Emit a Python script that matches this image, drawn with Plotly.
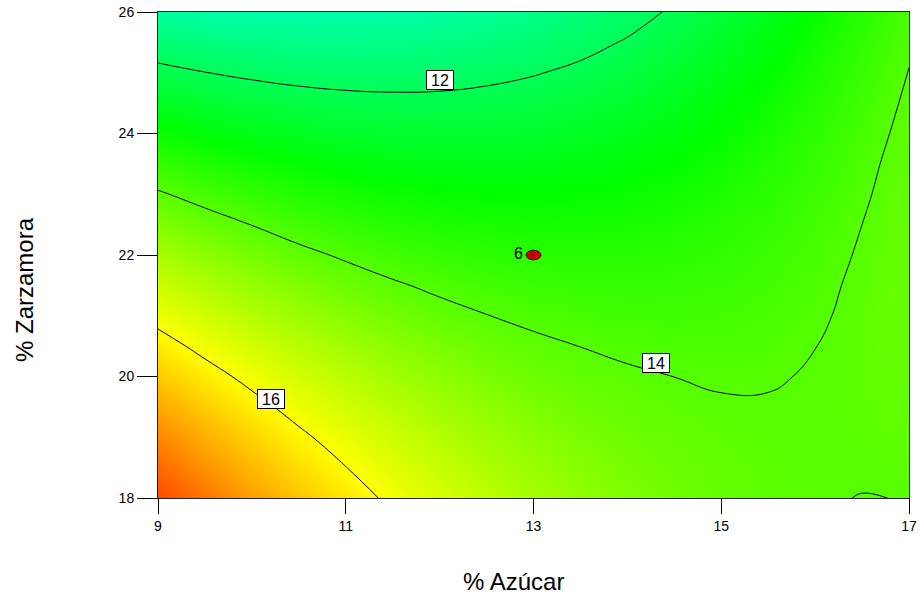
import plotly.graph_objects as go

# ---- data ----
azucar = [9, 9.5, 10, 10.5, 11, 11.5, 12, 12.5, 13, 13.5, 14, 14.5, 15, 15.5, 16, 16.5, 17]        # % Azúcar
zarzamora = [18, 18.5, 19, 19.5, 20, 20.5, 21, 21.5, 22, 22.5, 23, 23.5, 24, 24.5, 25, 25.5, 26]  # % Zarzamora
respuesta = [  # response values, one row per zarzamora value, one column per azucar value
    [18.16, 17.63, 17.14, 16.69, 16.27, 15.88, 15.53, 15.22, 14.94, 14.70, 14.50, 14.32, 14.19, 14.09, 14.026, 13.993, 14.006],
    [17.79, 17.29, 16.83, 16.40, 16.01, 15.65, 15.33, 15.04, 14.79, 14.58, 14.40, 14.25, 14.147, 14.074, 14.038, 14.037, 14.071],
    [17.42, 16.95, 16.51, 16.11, 15.74, 15.41, 15.12, 14.86, 14.63, 14.44, 14.29, 14.176, 14.095, 14.049, 14.040, 14.066, 14.127],
    [17.03, 16.59, 16.18, 15.80, 15.46, 15.16, 14.89, 14.66, 14.46, 14.30, 14.177, 14.087, 14.033, 14.020, 14.032, 14.085, 14.173],
    [16.64, 16.22, 15.84, 15.49, 15.18, 14.90, 14.66, 14.45, 14.28, 14.150, 14.060, 13.998, 13.962, 13.978, 14.020, 14.095, 14.210],
    [16.23, 15.84, 15.48, 15.16, 14.88, 14.63, 14.42, 14.24, 14.095, 13.995, 13.917, 13.881, 13.881, 13.917, 13.997, 14.095, 14.24],
    [15.82, 15.45, 15.12, 14.83, 14.57, 14.35, 14.16, 14.01, 13.90, 13.82, 13.77, 13.76, 13.79, 13.85, 13.95, 14.09, 14.26],
    [15.39, 15.06, 14.75, 14.49, 14.26, 14.06, 13.90, 13.78, 13.69, 13.64, 13.62, 13.64, 13.69, 13.78, 13.91, 14.07, 14.26],
    [14.96, 14.65, 14.37, 14.13, 13.93, 13.76, 13.63, 13.53, 13.47, 13.45, 13.46, 13.50, 13.58, 13.70, 13.85, 14.04, 14.25],
    [14.52, 14.23, 13.99, 13.77, 13.60, 13.45, 13.35, 13.28, 13.24, 13.25, 13.28, 13.35, 13.46, 13.61, 13.79, 14.00, 14.22],
    [14.06, 13.81, 13.59, 13.40, 13.25, 13.14, 13.06, 13.02, 13.01, 13.04, 13.10, 13.20, 13.33, 13.50, 13.71, 13.95, 14.19],
    [13.60, 13.37, 13.18, 13.02, 12.90, 12.81, 12.76, 12.74, 12.76, 12.82, 12.91, 13.03, 13.20, 13.39, 13.63, 13.90, 14.16],
    [13.13, 12.93, 12.76, 12.63, 12.53, 12.47, 12.45, 12.46, 12.51, 12.59, 12.71, 12.86, 13.05, 13.27, 13.53, 13.83, 14.12],
    [12.65, 12.47, 12.33, 12.23, 12.16, 12.13, 12.13, 12.17, 12.24, 12.35, 12.49, 12.68, 12.89, 13.14, 13.43, 13.75, 14.07],
    [12.16, 12.01, 11.90, 11.82, 11.78, 11.77, 11.80, 11.87, 11.97, 12.10, 12.27, 12.48, 12.72, 13.00, 13.32, 13.67, 14.01],
    [11.66, 11.54, 11.45, 11.40, 11.39, 11.41, 11.46, 11.55, 11.68, 11.85, 12.04, 12.28, 12.55, 12.85, 13.20, 13.57, 13.95],
    [11.15, 11.05, 10.99, 10.97, 10.98, 11.03, 11.11, 11.23, 11.39, 11.58, 11.80, 12.07, 12.36, 12.70, 13.06, 13.47, 13.87],
]
niveles = [12, 14, 16]                      # contour levels
etiqueta_x = [12.0, 14.3, 10.2]             # label position for each level
etiqueta_y = [24.88, 20.22, 19.63]
punto_x = [13]                              # design (center) point
punto_y = [22]
punto_n = ["6"]
x_ticks = [9, 11, 13, 15, 17]
y_ticks = [18, 20, 22, 24, 26]

FONT = "Arial, Liberation Sans, sans-serif"
escala = [[0.0, "rgb(0,0,255)"], [0.25, "rgb(0,255,255)"], [0.5, "rgb(0,255,0)"],
          [0.75, "rgb(255,255,0)"], [1.0, "rgb(255,0,0)"]]

fig = go.Figure()
fig.add_trace(go.Heatmap(x=azucar, y=zarzamora, z=respuesta, zsmooth="best",
                         colorscale=escala, zmin=7, zmax=19, showscale=False,
                         hoverinfo="skip"))
fig.add_trace(go.Contour(x=azucar, y=zarzamora, z=respuesta, autocontour=False,
                         contours=dict(start=niveles[0], end=niveles[-1], size=2,
                                       coloring="none", showlabels=False),
                         line=dict(color="black", width=1, smoothing=1.3),
                         showscale=False, hoverinfo="skip"))

for lv, lx, ly in zip(niveles, etiqueta_x, etiqueta_y):
    fig.add_annotation(x=lx, y=ly, text=str(lv), showarrow=False,
                       font=dict(family=FONT, size=16, color="black"),
                       bgcolor="white", bordercolor="black", borderwidth=1,
                       borderpad=1, width=24, height=16)

rx, ry = 0.08, 0.08
for px, py, n in zip(punto_x, punto_y, punto_n):
    fig.add_shape(type="circle", xref="x", yref="y", x0=px - rx, x1=px + rx,
                  y0=py - ry, y1=py + ry, fillcolor="#C80000",
                  line=dict(color="#3a0000", width=1))
    fig.add_annotation(x=px, y=py, text=n, showarrow=False, xanchor="right",
                       xshift=-9, yshift=2,
                       font=dict(family=FONT, size=16, color="black"))

fig.add_annotation(xref="paper", yref="paper", x=(513 - 158) / 751, y=-(582 - 498) / 486,
                   text="% Azúcar", showarrow=False, yanchor="middle",
                   font=dict(family=FONT, size=24, color="black"))
fig.add_annotation(xref="paper", yref="paper", x=-(158 - 24) / 751, y=(498 - 290) / 486,
                   text="% Zarzamora", showarrow=False, textangle=-90, xanchor="center",
                   yanchor="middle", font=dict(family=FONT, size=24, color="black"))

fig.update_xaxes(range=[9, 17], tickvals=x_ticks, ticks="outside", ticklen=15,
                 tickcolor="black", showline=True, linecolor="#222", linewidth=1,
                 mirror=True, showgrid=False, zeroline=False, automargin=False,
                 tickfont=dict(family=FONT, size=14, color="black"))
fig.update_yaxes(range=[18, 26], tickvals=y_ticks, ticks="outside", ticklen=20,
                 tickcolor="black", showline=True, linecolor="#222", linewidth=1,
                 mirror=True, showgrid=False, zeroline=False, automargin=False,
                 tickfont=dict(family=FONT, size=14, color="black"))
fig.update_layout(width=920, height=598, margin=dict(l=158, r=11, t=12, b=100),
                  paper_bgcolor="white", plot_bgcolor="white", showlegend=False)

fig.write_html("out.html")
